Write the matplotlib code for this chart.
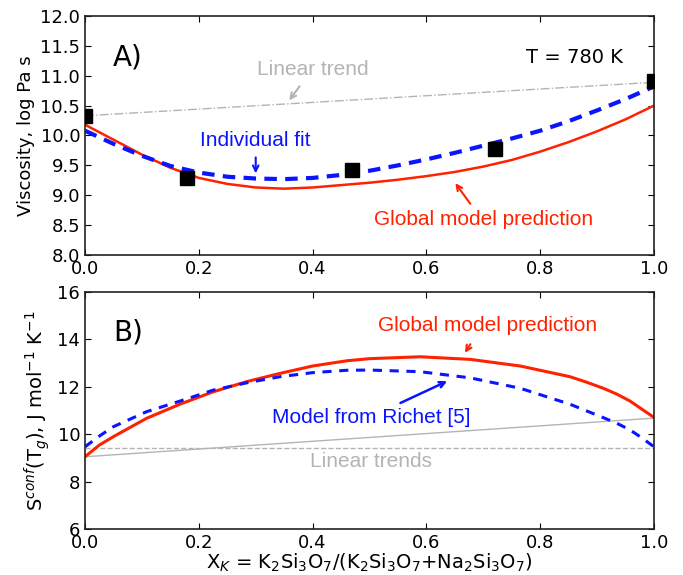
import matplotlib
matplotlib.use("Agg")
import matplotlib.pyplot as plt

# ---- panel A: viscosity at 780 K ----
x_meas = [0.0, 0.18, 0.47, 0.72, 1.0]
visc_meas = [10.32, 9.29, 9.43, 9.77, 10.92]

x_curve = [0.00, 0.05, 0.10, 0.15, 0.20, 0.25, 0.30, 0.35, 0.40, 0.45, 0.50,
           0.55, 0.60, 0.65, 0.70, 0.75, 0.80, 0.85, 0.90, 0.95, 1.00]
visc_global = [10.18, 9.93, 9.68, 9.46, 9.29, 9.19, 9.13, 9.11, 9.13, 9.17, 9.21,
               9.26, 9.32, 9.39, 9.48, 9.59, 9.73, 9.89, 10.07, 10.27, 10.50]
visc_indiv = [10.08, 9.86, 9.66, 9.49, 9.38, 9.31, 9.28, 9.27, 9.29, 9.34, 9.41,
              9.50, 9.60, 9.71, 9.83, 9.95, 10.08, 10.24, 10.42, 10.61, 10.82]
visc_linear = [10.33, 10.89]

# ---- panel B: configurational entropy ----
x_sconf = [0.00, 0.025, 0.05, 0.108, 0.167, 0.225, 0.284, 0.343, 0.40, 0.46, 0.50,
           0.589, 0.677, 0.765, 0.852, 0.88, 0.911, 0.935, 0.958, 0.978, 1.00]
sconf_global = [9.05, 9.54, 9.90, 10.67, 11.27, 11.79, 12.22, 12.57, 12.88, 13.10, 13.19,
                13.27, 13.16, 12.88, 12.43, 12.21, 11.94, 11.69, 11.40, 11.07, 10.71]
sconf_richet = [9.47, 9.92, 10.32, 10.95, 11.40, 11.86, 12.17, 12.43, 12.60, 12.70, 12.71,
                12.64, 12.38, 11.94, 11.27, 11.00, 10.70, 10.46, 10.18, 9.86, 9.47]
sconf_linear = [9.05, 10.68]
sconf_flat = [9.43, 9.43]
x_ends = [0.0, 1.0]

red = "#ff2200"
blue = "#0a14ff"
gray = "#b4b4b4"
note_font = ["Liberation Sans", "DejaVu Sans"]

plt.rcParams.update({
    "xtick.direction": "in", "ytick.direction": "in",
    "xtick.top": True, "ytick.right": True,
    "xtick.major.size": 4, "ytick.major.size": 4,
    "xtick.labelsize": 13, "ytick.labelsize": 13,
    "axes.linewidth": 1.2, "axes.edgecolor": "#222222",
})

fig = plt.figure(figsize=(6.83, 5.75), dpi=100)
ax1 = fig.add_axes([0.1245, 0.5565, 0.833, 0.4157])
ax2 = fig.add_axes([0.1245, 0.080, 0.833, 0.412])

# panel A
ax1.plot(x_ends, visc_linear, color=gray, lw=1, ls="-.")
ax1.plot(x_curve, visc_global, color=red, lw=1.8)
ax1.plot(x_curve, visc_indiv, color=blue, lw=3, ls="--", dashes=(3, 2))
ax1.plot(x_meas, visc_meas, "s", color="black", ms=10, zorder=5)
ax1.set_xlim(0, 1)
ax1.set_ylim(8, 12)
ax1.set_yticks([8.0, 8.5, 9.0, 9.5, 10.0, 10.5, 11.0, 11.5, 12.0])
ax1.set_yticklabels(["8.0", "8.5", "9.0", "9.5", "10.0", "10.5", "11.0", "11.5", "12.0"])
ax1.set_xticks([0, 0.2, 0.4, 0.6, 0.8, 1.0])
ax1.set_xticklabels(["0.0", "0.2", "0.4", "0.6", "0.8", "1.0"])
ax1.set_ylabel("Viscosity, log Pa s", fontsize=13)
ax1.text(0.075, 11.3, "A)", fontsize=20, ha="center", va="center")
ax1.text(0.86, 11.3, "T = 780 K", fontsize=14, ha="center", va="center")
ax1.text(0.40, 11.1, "Linear trend", color=gray, fontsize=15, ha="center", va="center",
         family=note_font)
ax1.annotate("", xy=(0.356, 10.55), xytext=(0.38, 10.86),
             arrowprops=dict(arrowstyle="->", color=gray, lw=1.5))
ax1.text(0.30, 9.91, "Individual fit", color=blue, fontsize=15, ha="center", va="center",
         family=note_font)
ax1.annotate("", xy=(0.30, 9.32), xytext=(0.30, 9.68),
             arrowprops=dict(arrowstyle="->", color=blue, lw=1.5))
ax1.text(0.70, 8.6, "Global model prediction", color=red, fontsize=15, ha="center",
         va="center", family=note_font)
ax1.annotate("", xy=(0.648, 9.24), xytext=(0.68, 8.82),
             arrowprops=dict(arrowstyle="->", color=red, lw=1.5))

# panel B
ax2.plot(x_ends, sconf_linear, color=gray, lw=1)
ax2.plot(x_ends, sconf_flat, color=gray, lw=1, ls="--")
ax2.plot(x_sconf, sconf_global, color=red, lw=2.2)
ax2.plot(x_sconf, sconf_richet, color=blue, lw=2.2, ls="--", dashes=(3, 2.5))
ax2.set_xlim(0, 1)
ax2.set_ylim(6, 16)
ax2.set_yticks([6, 8, 10, 12, 14, 16])
ax2.set_xticks([0, 0.2, 0.4, 0.6, 0.8, 1.0])
ax2.set_xticklabels(["0.0", "0.2", "0.4", "0.6", "0.8", "1.0"])
ax2.set_ylabel(r"S$^{conf}$(T$_g$), J mol$^{-1}$ K$^{-1}$", fontsize=14)
ax2.set_xlabel(r"X$_K$ = K$_2$Si$_3$O$_7$/(K$_2$Si$_3$O$_7$+Na$_2$Si$_3$O$_7$)",
               fontsize=14, labelpad=0)
ax2.text(0.075, 14.3, "B)", fontsize=20, ha="center", va="center")
ax2.text(0.707, 14.57, "Global model prediction", color=red, fontsize=15, ha="center",
         va="center", family=note_font)
ax2.annotate("", xy=(0.665, 13.34), xytext=(0.68, 13.9),
             arrowprops=dict(arrowstyle="->", color=red, lw=1.5))
ax2.text(0.503, 10.7, "Model from Richet [5]", color=blue, fontsize=15, ha="center",
         va="center", family=note_font)
ax2.annotate("", xy=(0.641, 12.29), xytext=(0.55, 11.27),
             arrowprops=dict(arrowstyle="->", color=blue, lw=1.8))
ax2.text(0.503, 8.85, "Linear trends", color=gray, fontsize=15, ha="center", va="center",
         family=note_font)

fig.savefig("out.png", dpi=100)
